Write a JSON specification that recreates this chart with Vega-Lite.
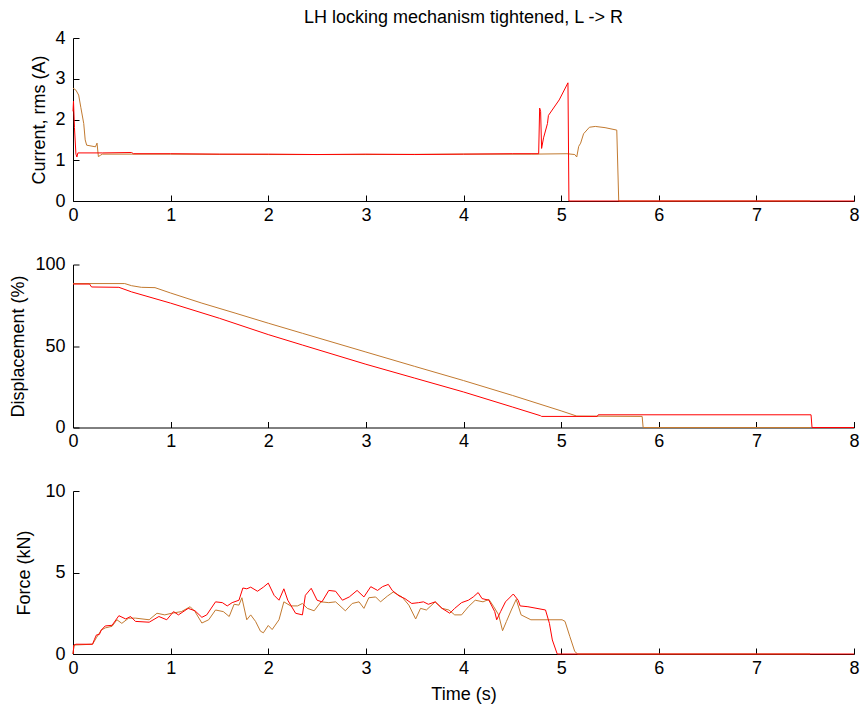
{
  "$schema": "https://vega.github.io/schema/vega-lite/v6.json",
  "padding": {"left": 9, "top": 9, "right": 5, "bottom": 5},
  "spacing": 63.5,
  "bounds": "flush",
  "config": {
    "view": {"stroke": null},
    "font": "Liberation Sans",
    "axis": {
      "grid": false,
      "domainColor": "#000000",
      "tickColor": "#000000",
      "labelColor": "#000000",
      "titleColor": "#000000",
      "labelFont": "Liberation Sans",
      "titleFont": "Liberation Sans",
      "labelFontSize": 18,
      "titleFontSize": 18,
      "titleFontWeight": "normal",
      "tickSize": -6,
      "labelPadding": 14,
      "labelFlush": false,
      "domainWidth": 1,
      "tickWidth": 1
    },
    "line": {"strokeWidth": 1}
  },
  "datasets": {
    "cur": [
      {"s": "b", "t": 0, "v": 2.77}, {"s": "b", "t": 0.03, "v": 2.72}, {"s": "b", "t": 0.058, "v": 2.6}, {"s": "b", "t": 0.08, "v": 2.3}, {"s": "b", "t": 0.11, "v": 1.9}, {"s": "b", "t": 0.125, "v": 1.5}, {"s": "b", "t": 0.14, "v": 1.37}, {"s": "b", "t": 0.23, "v": 1.33}, {"s": "b", "t": 0.246, "v": 1.42}, {"s": "b", "t": 0.26, "v": 1.09}, {"s": "b", "t": 0.28, "v": 1.12}, {"s": "b", "t": 0.3, "v": 1.15}, {"s": "b", "t": 1, "v": 1.15}, {"s": "b", "t": 2, "v": 1.14}, {"s": "b", "t": 3, "v": 1.14}, {"s": "b", "t": 4, "v": 1.15}, {"s": "b", "t": 4.7, "v": 1.15}, {"s": "b", "t": 5.06, "v": 1.16}, {"s": "b", "t": 5.14, "v": 1.14}, {"s": "b", "t": 5.16, "v": 1.08}, {"s": "b", "t": 5.18, "v": 1.34}, {"s": "b", "t": 5.2, "v": 1.42}, {"s": "b", "t": 5.23, "v": 1.65}, {"s": "b", "t": 5.29, "v": 1.81}, {"s": "b", "t": 5.35, "v": 1.83}, {"s": "b", "t": 5.45, "v": 1.8}, {"s": "b", "t": 5.57, "v": 1.74}, {"s": "b", "t": 5.59, "v": 0}, {"s": "b", "t": 7.55, "v": 0},
      {"s": "r", "t": 0, "v": 2.2}, {"s": "r", "t": 0.005, "v": 2.45}, {"s": "r", "t": 0.015, "v": 1.8}, {"s": "r", "t": 0.03, "v": 1.15}, {"s": "r", "t": 0.04, "v": 1.08}, {"s": "r", "t": 0.05, "v": 1.18}, {"s": "r", "t": 0.3, "v": 1.18}, {"s": "r", "t": 0.6, "v": 1.19}, {"s": "r", "t": 0.62, "v": 1.16}, {"s": "r", "t": 1, "v": 1.16}, {"s": "r", "t": 1.5, "v": 1.15}, {"s": "r", "t": 2, "v": 1.15}, {"s": "r", "t": 2.5, "v": 1.14}, {"s": "r", "t": 3, "v": 1.15}, {"s": "r", "t": 3.5, "v": 1.14}, {"s": "r", "t": 4, "v": 1.15}, {"s": "r", "t": 4.5, "v": 1.16}, {"s": "r", "t": 4.77, "v": 1.16}, {"s": "r", "t": 4.78, "v": 2.28}, {"s": "r", "t": 4.79, "v": 2.2}, {"s": "r", "t": 4.8, "v": 1.29}, {"s": "r", "t": 4.82, "v": 1.55}, {"s": "r", "t": 4.86, "v": 1.9}, {"s": "r", "t": 4.87, "v": 2.1}, {"s": "r", "t": 4.98, "v": 2.48}, {"s": "r", "t": 5.07, "v": 2.9}, {"s": "r", "t": 5.08, "v": 0}, {"s": "r", "t": 8, "v": 0}
    ],
    "disp": [
      {"s": "b", "t": 0, "v": 88.3}, {"s": "b", "t": 0.53, "v": 88.3}, {"s": "b", "t": 0.6, "v": 87}, {"s": "b", "t": 0.7, "v": 86}, {"s": "b", "t": 0.84, "v": 85.8}, {"s": "b", "t": 1, "v": 82.5}, {"s": "b", "t": 1.32, "v": 76.3}, {"s": "b", "t": 1.66, "v": 70.2}, {"s": "b", "t": 2, "v": 64}, {"s": "b", "t": 2.35, "v": 57.8}, {"s": "b", "t": 3, "v": 46.3}, {"s": "b", "t": 3.5, "v": 37.5}, {"s": "b", "t": 4, "v": 28.8}, {"s": "b", "t": 4.5, "v": 19.7}, {"s": "b", "t": 5, "v": 10.2}, {"s": "b", "t": 5.16, "v": 7}, {"s": "b", "t": 5.83, "v": 6.8}, {"s": "b", "t": 5.84, "v": 0}, {"s": "b", "t": 7.55, "v": 0},
      {"s": "r", "t": 0, "v": 88}, {"s": "r", "t": 0.17, "v": 88}, {"s": "r", "t": 0.19, "v": 86.2}, {"s": "r", "t": 0.47, "v": 86}, {"s": "r", "t": 0.6, "v": 83.2}, {"s": "r", "t": 1, "v": 76.3}, {"s": "r", "t": 1.5, "v": 67}, {"s": "r", "t": 2, "v": 57}, {"s": "r", "t": 2.35, "v": 50.6}, {"s": "r", "t": 3, "v": 38.8}, {"s": "r", "t": 3.5, "v": 30.3}, {"s": "r", "t": 4, "v": 21.8}, {"s": "r", "t": 4.5, "v": 12.6}, {"s": "r", "t": 4.79, "v": 7.2}, {"s": "r", "t": 4.8, "v": 6.8}, {"s": "r", "t": 5.37, "v": 6.8}, {"s": "r", "t": 5.38, "v": 7.8}, {"s": "r", "t": 7.56, "v": 7.8}, {"s": "r", "t": 7.57, "v": 0}, {"s": "r", "t": 8, "v": 0}
    ],
    "force": [
      {"s": "b", "t": 0, "v": 0}, {"s": "b", "t": 0.01, "v": 0.55}, {"s": "b", "t": 0.2, "v": 0.6}, {"s": "b", "t": 0.24, "v": 1.0}, {"s": "b", "t": 0.29, "v": 1.47}, {"s": "b", "t": 0.33, "v": 1.6}, {"s": "b", "t": 0.4, "v": 1.7}, {"s": "b", "t": 0.45, "v": 2.1}, {"s": "b", "t": 0.5, "v": 1.88}, {"s": "b", "t": 0.57, "v": 2.2}, {"s": "b", "t": 0.64, "v": 2.2}, {"s": "b", "t": 0.78, "v": 2.1}, {"s": "b", "t": 0.86, "v": 2.5}, {"s": "b", "t": 0.94, "v": 2.4}, {"s": "b", "t": 1.01, "v": 2.5}, {"s": "b", "t": 1.11, "v": 2.6}, {"s": "b", "t": 1.2, "v": 2.9}, {"s": "b", "t": 1.25, "v": 2.6}, {"s": "b", "t": 1.32, "v": 1.9}, {"s": "b", "t": 1.39, "v": 2.1}, {"s": "b", "t": 1.46, "v": 2.7}, {"s": "b", "t": 1.54, "v": 2.6}, {"s": "b", "t": 1.6, "v": 2.3}, {"s": "b", "t": 1.65, "v": 3.05}, {"s": "b", "t": 1.7, "v": 3.0}, {"s": "b", "t": 1.73, "v": 3.45}, {"s": "b", "t": 1.78, "v": 2.1}, {"s": "b", "t": 1.82, "v": 2.4}, {"s": "b", "t": 1.87, "v": 2.0}, {"s": "b", "t": 1.92, "v": 1.4}, {"s": "b", "t": 1.95, "v": 1.3}, {"s": "b", "t": 2.0, "v": 1.75}, {"s": "b", "t": 2.04, "v": 1.5}, {"s": "b", "t": 2.11, "v": 2.1}, {"s": "b", "t": 2.16, "v": 3.2}, {"s": "b", "t": 2.23, "v": 2.95}, {"s": "b", "t": 2.3, "v": 2.95}, {"s": "b", "t": 2.35, "v": 3.1}, {"s": "b", "t": 2.4, "v": 2.8}, {"s": "b", "t": 2.47, "v": 2.65}, {"s": "b", "t": 2.54, "v": 3.2}, {"s": "b", "t": 2.62, "v": 3.15}, {"s": "b", "t": 2.69, "v": 3.2}, {"s": "b", "t": 2.79, "v": 2.65}, {"s": "b", "t": 2.86, "v": 3.1}, {"s": "b", "t": 2.93, "v": 3.2}, {"s": "b", "t": 2.98, "v": 2.8}, {"s": "b", "t": 3.03, "v": 3.45}, {"s": "b", "t": 3.1, "v": 3.5}, {"s": "b", "t": 3.15, "v": 3.2}, {"s": "b", "t": 3.22, "v": 3.55}, {"s": "b", "t": 3.28, "v": 3.8}, {"s": "b", "t": 3.37, "v": 3.5}, {"s": "b", "t": 3.44, "v": 3.0}, {"s": "b", "t": 3.51, "v": 2.15}, {"s": "b", "t": 3.56, "v": 2.8}, {"s": "b", "t": 3.62, "v": 2.7}, {"s": "b", "t": 3.71, "v": 3.2}, {"s": "b", "t": 3.78, "v": 2.8}, {"s": "b", "t": 3.85, "v": 2.7}, {"s": "b", "t": 3.91, "v": 2.4}, {"s": "b", "t": 3.98, "v": 2.4}, {"s": "b", "t": 4.05, "v": 2.9}, {"s": "b", "t": 4.12, "v": 3.3}, {"s": "b", "t": 4.2, "v": 3.2}, {"s": "b", "t": 4.26, "v": 3.35}, {"s": "b", "t": 4.31, "v": 2.9}, {"s": "b", "t": 4.36, "v": 2.4}, {"s": "b", "t": 4.4, "v": 1.43}, {"s": "b", "t": 4.44, "v": 2.0}, {"s": "b", "t": 4.49, "v": 2.7}, {"s": "b", "t": 4.54, "v": 3.35}, {"s": "b", "t": 4.59, "v": 2.4}, {"s": "b", "t": 4.69, "v": 2.1}, {"s": "b", "t": 5.01, "v": 2.1}, {"s": "b", "t": 5.04, "v": 2.0}, {"s": "b", "t": 5.09, "v": 1.06}, {"s": "b", "t": 5.14, "v": 0.15}, {"s": "b", "t": 5.17, "v": 0}, {"s": "b", "t": 7.55, "v": 0},
      {"s": "r", "t": 0, "v": 0}, {"s": "r", "t": 0.01, "v": 0.55}, {"s": "r", "t": 0.03, "v": 0.6}, {"s": "r", "t": 0.2, "v": 0.6}, {"s": "r", "t": 0.22, "v": 0.9}, {"s": "r", "t": 0.24, "v": 1.17}, {"s": "r", "t": 0.27, "v": 1.2}, {"s": "r", "t": 0.29, "v": 1.47}, {"s": "r", "t": 0.33, "v": 1.72}, {"s": "r", "t": 0.4, "v": 1.76}, {"s": "r", "t": 0.47, "v": 2.35}, {"s": "r", "t": 0.54, "v": 2.15}, {"s": "r", "t": 0.59, "v": 2.3}, {"s": "r", "t": 0.64, "v": 2.0}, {"s": "r", "t": 0.78, "v": 1.95}, {"s": "r", "t": 0.88, "v": 2.3}, {"s": "r", "t": 0.96, "v": 2.1}, {"s": "r", "t": 1.03, "v": 2.6}, {"s": "r", "t": 1.08, "v": 2.4}, {"s": "r", "t": 1.18, "v": 2.8}, {"s": "r", "t": 1.25, "v": 2.65}, {"s": "r", "t": 1.32, "v": 2.25}, {"s": "r", "t": 1.37, "v": 2.4}, {"s": "r", "t": 1.46, "v": 3.2}, {"s": "r", "t": 1.53, "v": 3.15}, {"s": "r", "t": 1.58, "v": 2.95}, {"s": "r", "t": 1.63, "v": 3.15}, {"s": "r", "t": 1.7, "v": 3.3}, {"s": "r", "t": 1.74, "v": 4.05}, {"s": "r", "t": 1.78, "v": 4.0}, {"s": "r", "t": 1.82, "v": 4.1}, {"s": "r", "t": 1.89, "v": 3.85}, {"s": "r", "t": 1.95, "v": 4.1}, {"s": "r", "t": 2.0, "v": 4.35}, {"s": "r", "t": 2.06, "v": 3.6}, {"s": "r", "t": 2.11, "v": 3.3}, {"s": "r", "t": 2.16, "v": 4.0}, {"s": "r", "t": 2.2, "v": 3.3}, {"s": "r", "t": 2.28, "v": 2.5}, {"s": "r", "t": 2.35, "v": 2.4}, {"s": "r", "t": 2.38, "v": 3.6}, {"s": "r", "t": 2.44, "v": 4.03}, {"s": "r", "t": 2.5, "v": 3.3}, {"s": "r", "t": 2.55, "v": 3.2}, {"s": "r", "t": 2.62, "v": 3.9}, {"s": "r", "t": 2.69, "v": 3.85}, {"s": "r", "t": 2.76, "v": 3.3}, {"s": "r", "t": 2.83, "v": 3.5}, {"s": "r", "t": 2.91, "v": 3.9}, {"s": "r", "t": 2.98, "v": 3.5}, {"s": "r", "t": 3.05, "v": 4.13}, {"s": "r", "t": 3.12, "v": 3.9}, {"s": "r", "t": 3.17, "v": 4.13}, {"s": "r", "t": 3.23, "v": 4.27}, {"s": "r", "t": 3.27, "v": 3.9}, {"s": "r", "t": 3.34, "v": 3.56}, {"s": "r", "t": 3.4, "v": 3.4}, {"s": "r", "t": 3.47, "v": 3.1}, {"s": "r", "t": 3.54, "v": 3.15}, {"s": "r", "t": 3.59, "v": 3.2}, {"s": "r", "t": 3.64, "v": 3.05}, {"s": "r", "t": 3.71, "v": 3.2}, {"s": "r", "t": 3.78, "v": 2.8}, {"s": "r", "t": 3.86, "v": 2.5}, {"s": "r", "t": 3.91, "v": 2.8}, {"s": "r", "t": 3.98, "v": 3.15}, {"s": "r", "t": 4.05, "v": 3.3}, {"s": "r", "t": 4.1, "v": 3.5}, {"s": "r", "t": 4.15, "v": 3.77}, {"s": "r", "t": 4.19, "v": 3.4}, {"s": "r", "t": 4.26, "v": 3.3}, {"s": "r", "t": 4.32, "v": 2.6}, {"s": "r", "t": 4.34, "v": 2.1}, {"s": "r", "t": 4.38, "v": 2.6}, {"s": "r", "t": 4.43, "v": 3.2}, {"s": "r", "t": 4.51, "v": 3.68}, {"s": "r", "t": 4.56, "v": 3.3}, {"s": "r", "t": 4.58, "v": 2.95}, {"s": "r", "t": 4.66, "v": 2.9}, {"s": "r", "t": 4.84, "v": 2.7}, {"s": "r", "t": 4.88, "v": 1.88}, {"s": "r", "t": 4.91, "v": 0.86}, {"s": "r", "t": 4.96, "v": 0}, {"s": "r", "t": 8, "v": 0}
    ]
  },
  "vconcat": [
    {
      "width": 781,
      "height": 163,
      "title": {"text": "LH locking mechanism tightened, L -> R", "fontSize": 18, "fontWeight": "normal", "font": "Liberation Sans", "color": "#000000", "offset": 2, "anchor": "middle"},
      "data": {"name": "cur"},
      "mark": {"type": "line", "strokeWidth": 1},
      "encoding": {
        "x": {"field": "t", "type": "quantitative", "scale": {"domain": [0, 8], "nice": false}, "axis": {"title": null, "values": [0, 1, 2, 3, 4, 5, 6, 7, 8], "labelPadding": 11}},
        "y": {"field": "v", "type": "quantitative", "scale": {"domain": [0, 4], "nice": false}, "axis": {"title": "Current, rms (A)", "values": [0, 1, 2, 3, 4], "titlePadding": 6}},
        "color": {"field": "s", "type": "nominal", "scale": {"domain": ["b", "r"], "range": ["#c27a30", "#ff0000"]}, "legend": null}
      }
    },
    {
      "width": 781,
      "height": 163,
      "data": {"name": "disp"},
      "mark": {"type": "line", "strokeWidth": 1},
      "encoding": {
        "x": {"field": "t", "type": "quantitative", "scale": {"domain": [0, 8], "nice": false}, "axis": {"title": null, "values": [0, 1, 2, 3, 4, 5, 6, 7, 8], "labelPadding": 11}},
        "y": {"field": "v", "type": "quantitative", "scale": {"domain": [0, 100], "nice": false}, "axis": {"title": "Displacement (%)", "values": [0, 50, 100], "titlePadding": 7}},
        "color": {"field": "s", "type": "nominal", "scale": {"domain": ["b", "r"], "range": ["#c27a30", "#ff0000"]}, "legend": null}
      }
    },
    {
      "width": 781,
      "height": 163,
      "data": {"name": "force"},
      "mark": {"type": "line", "strokeWidth": 1},
      "encoding": {
        "x": {"field": "t", "type": "quantitative", "scale": {"domain": [0, 8], "nice": false}, "axis": {"title": "Time (s)", "values": [0, 1, 2, 3, 4, 5, 6, 7, 8], "labelPadding": 11, "titlePadding": 8}},
        "y": {"field": "v", "type": "quantitative", "scale": {"domain": [0, 10], "nice": false}, "axis": {"title": "Force (kN)", "values": [0, 5, 10], "titlePadding": 11}},
        "color": {"field": "s", "type": "nominal", "scale": {"domain": ["b", "r"], "range": ["#c27a30", "#ff0000"]}, "legend": null}
      }
    }
  ]
}
